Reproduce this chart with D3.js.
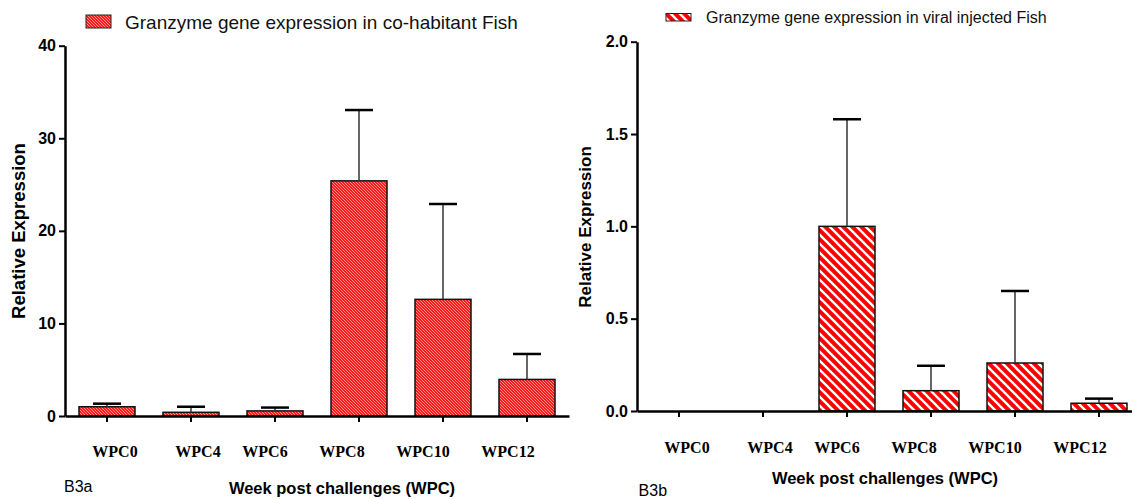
<!DOCTYPE html>
<html>
<head>
<meta charset="utf-8">
<script src="https://cdn.jsdelivr.net/npm/d3@7"></script>
<style>
    body { margin: 0; background: #fff; }
    text { font-family: "Liberation Sans", Arial, sans-serif; }
    .wlabel { font-family: "Liberation Serif", "Times New Roman", serif; font-weight: bold; font-size: 16px; }
</style>
</head>
<body>
<div id="chart"></div>
<script>
// categories
let weeks = ["WPC0", "WPC4", "WPC6", "WPC8", "WPC10", "WPC12"];

// B3a - co-habitant fish (mean, error above mean)
let cohabMean = [1.0, 0.4, 0.55, 25.4, 12.6, 3.95];
let cohabErr = [0.33, 0.6, 0.36, 7.65, 10.3, 2.75];

// B3b - viral injected fish
let injMean = [0, 0, 1.0, 0.11, 0.26, 0.042];
let injErr = [0, 0, 0.58, 0.135, 0.39, 0.025];

let cohabTicks = [0, 10, 20, 30, 40];
let injTicks = [0, 0.5, 1.0, 1.5, 2.0];

// week labels are hand placed in the original, nudged off the tick
let labelShift = [8, 7, -10, -17, -20, -19]; //px

let width = 1132, height = 499;

let svg = d3.select("#chart")
    .append("svg")
    .attr("width", width)
    .attr("height", height);

svg.append("rect")
    .attr("width", "100%")
    .attr("height", "100%")
    .attr("fill", "#fff");

let defs = svg.append("defs");

// fine hatch for the co-habitant bars
let fine = defs.append("pattern")
    .attr("id", "fineHatch")
    .attr("patternUnits", "userSpaceOnUse")
    .attr("width", 3)
    .attr("height", 3);
fine.append("rect").attr("width", 3).attr("height", 3).attr("fill", "#ff1a1a");
fine.append("path")
    .attr("d", "M0,0L3,3M-1,2L1,4M2,-1L4,1")
    .attr("stroke", "#ffb0b0")
    .attr("stroke-width", 0.8);

// wide white stripes for the injected bars
let s = 9;
let wide = defs.append("pattern")
    .attr("id", "wideStripe")
    .attr("patternUnits", "userSpaceOnUse")
    .attr("width", s)
    .attr("height", s);
wide.append("rect").attr("width", s).attr("height", s).attr("fill", "#ff0000");
wide.append("path")
    .attr("d", "M0,0L" + s + "," + s + "M" + (-s / 2) + "," + (s / 2) + "L" + (s / 2) + "," + (s * 1.5) + "M" + (s / 2) + "," + (-s / 2) + "L" + (s * 1.5) + "," + (s / 2))
    .attr("stroke", "#fff")
    .attr("stroke-width", 2.3);

function drawPanel(cfg) {
    let x = d3.scaleBand()
        .domain(weeks)
        .range([cfg.left, cfg.left + 504])
        .paddingInner(1 / 3)
        .paddingOuter(1 / 6);

    let y = d3.scaleLinear()
        .domain([0, cfg.yMax])
        .range([cfg.zeroY, cfg.topY]);

    let g = svg.append("g");

    // bars
    let idx = d3.range(weeks.length).filter(i => cfg.mean[i] > 0);

    g.selectAll("rect.bar")
        .data(idx)
        .enter()
        .append("rect")
        .attr("class", "bar")
        .attr("x", i => x(weeks[i]))
        .attr("y", i => y(cfg.mean[i]))
        .attr("width", x.bandwidth())
        .attr("height", i => y(0) - y(cfg.mean[i]))
        .attr("fill", "url(#" + cfg.pattern + ")")
        .attr("stroke", "#111")
        .attr("stroke-width", 1.5);

    // error bars (upper only)
    let capW = 28;
    g.selectAll("line.err")
        .data(idx)
        .enter()
        .append("line")
        .attr("x1", i => x(weeks[i]) + x.bandwidth() / 2)
        .attr("x2", i => x(weeks[i]) + x.bandwidth() / 2)
        .attr("y1", i => y(cfg.mean[i]))
        .attr("y2", i => y(cfg.mean[i] + cfg.err[i]))
        .attr("stroke", "#333")
        .attr("stroke-width", 1.5);

    g.selectAll("line.cap")
        .data(idx)
        .enter()
        .append("line")
        .attr("x1", i => x(weeks[i]) + x.bandwidth() / 2 - capW / 2)
        .attr("x2", i => x(weeks[i]) + x.bandwidth() / 2 + capW / 2)
        .attr("y1", i => y(cfg.mean[i] + cfg.err[i]))
        .attr("y2", i => y(cfg.mean[i] + cfg.err[i]))
        .attr("stroke", "#000")
        .attr("stroke-width", 2.5);

    /*---------------
     // y axis
     ----------------*/
    let yAxis = d3.axisLeft(y)
        .tickValues(cfg.ticks)
        .tickFormat(cfg.fmt)
        .tickSize(6)
        .tickSizeOuter(0)
        .tickPadding(3);

    let ya = g.append("g")
        .attr("transform", "translate(" + cfg.left + ",0)")
        .call(yAxis);
    ya.select(".domain").attr("stroke", "#000").attr("stroke-width", 2.5);
    ya.selectAll(".tick line").attr("stroke", "#000").attr("stroke-width", 2);
    ya.selectAll(".tick text")
        .attr("fill", "#000")
        .style("font-family", "'Liberation Sans', Arial, sans-serif")
        .style("font-weight", "bold")
        .style("font-size", "16px");

    g.append("text")
        .attr("transform", "translate(" + cfg.yTitleX + "," + cfg.yTitleY + ") rotate(-90)")
        .style("text-anchor", "middle")
        .style("font-weight", "bold")
        .style("font-size", cfg.yTitleSize + "px")
        .text("Relative Expression");

    /*---------------
     // x axis
     ----------------*/
    let xAxis = d3.axisBottom(x)
        .tickSize(6)
        .tickSizeOuter(0)
        .tickFormat("");

    let xa = g.append("g")
        .attr("transform", "translate(0," + cfg.zeroY + ")")
        .call(xAxis);
    xa.select(".domain").attr("stroke", "#000").attr("stroke-width", 2.5);
    xa.selectAll(".tick line").attr("stroke", "#000").attr("stroke-width", 2);

    g.selectAll("text.wlabel")
        .data(weeks)
        .enter()
        .append("text")
        .attr("class", "wlabel")
        .attr("x", (d, i) => x(d) + x.bandwidth() / 2 + labelShift[i])
        .attr("y", cfg.labelY)
        .style("text-anchor", "middle")
        .text(d => d);

    g.append("text")
        .attr("x", cfg.xTitleX)
        .attr("y", cfg.xTitleY)
        .style("text-anchor", "middle")
        .style("font-weight", "bold")
        .style("font-size", "16.5px")
        .text("Week post challenges (WPC)");

    g.append("text")
        .attr("x", cfg.tagX)
        .attr("y", cfg.tagY)
        .style("font-size", "16px")
        .text(cfg.tag);

    // legend
    let lg = cfg.legend;
    g.append("rect")
        .attr("x", lg.x)
        .attr("y", lg.y)
        .attr("width", 25)
        .attr("height", lg.h)
        .attr("fill", "url(#" + cfg.pattern + ")")
        .attr("stroke", "#222")
        .attr("stroke-width", 1);

    g.append("text")
        .attr("x", lg.tx)
        .attr("y", lg.ty)
        .style("font-size", lg.size + "px")
        .attr("fill", "#111")
        .text(lg.text);
}

drawPanel({
    left: 65, zeroY: 416, topY: 45.7, yMax: 40,
    mean: cohabMean, err: cohabErr, ticks: cohabTicks, fmt: d3.format("d"),
    pattern: "fineHatch",
    yTitleX: 25, yTitleY: 231, yTitleSize: 18.5,
    labelY: 457, xTitleX: 342, xTitleY: 494,
    tag: "B3a", tagX: 64, tagY: 492,
    legend: { x: 86, y: 15, h: 13, tx: 125, ty: 28.5, size: 19,
              text: "Granzyme gene expression in co-habitant Fish" }
});

drawPanel({
    left: 637, zeroY: 411, topY: 41.7, yMax: 2,
    mean: injMean, err: injErr, ticks: injTicks, fmt: d3.format(".1f"),
    pattern: "wideStripe",
    yTitleX: 591, yTitleY: 227, yTitleSize: 17,
    labelY: 452.7, xTitleX: 885, xTitleY: 483.5,
    tag: "B3b", tagX: 638.6, tagY: 496,
    legend: { x: 666, y: 13.5, h: 7.5, tx: 706, ty: 23.2, size: 16,
              text: "Granzyme gene expression in viral injected Fish" }
});
</script>
</body>
</html>
